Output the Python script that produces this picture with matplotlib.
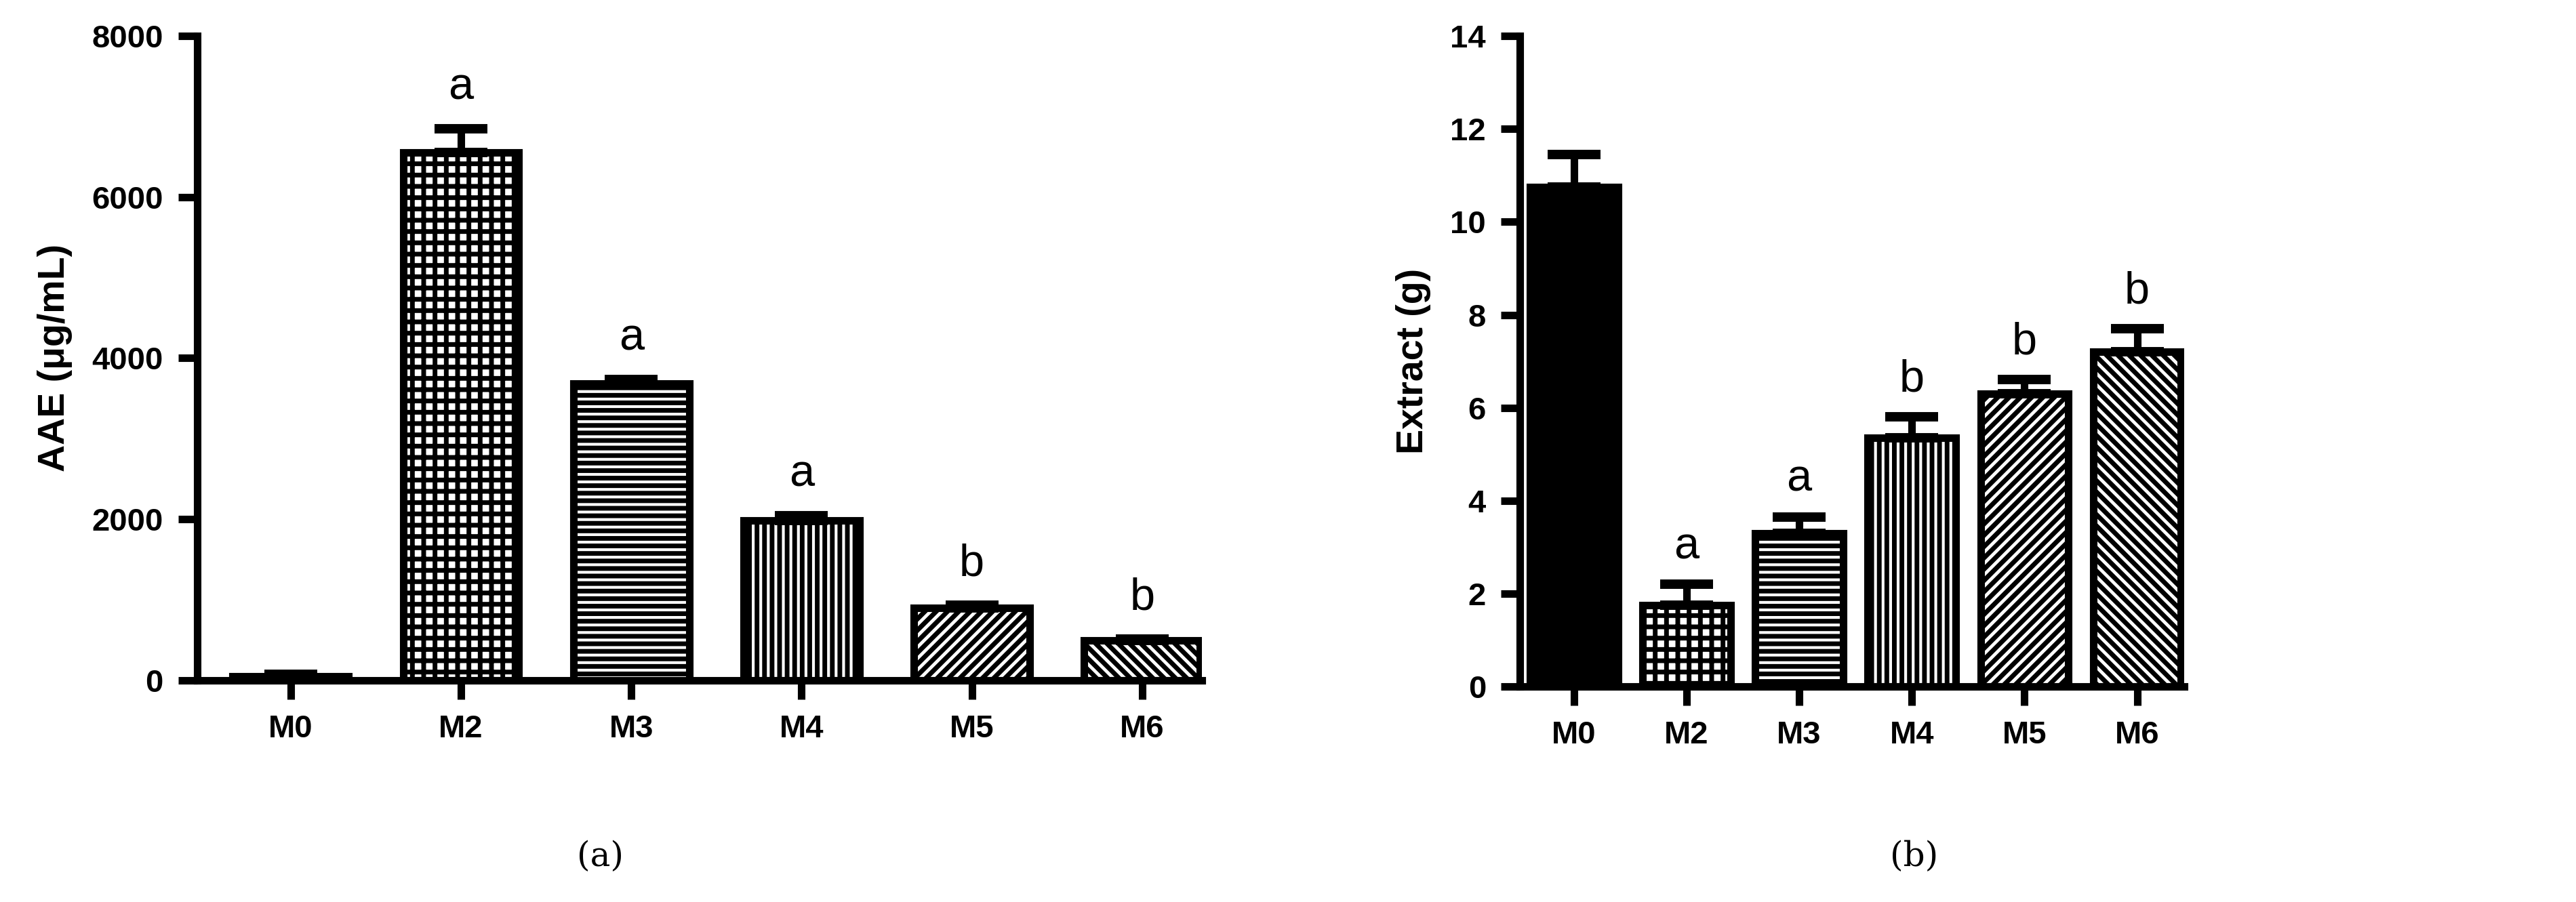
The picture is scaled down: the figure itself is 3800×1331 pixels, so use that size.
import matplotlib.pyplot as plt

plt.rcParams["font.family"] = ["Liberation Sans", "DejaVu Sans"]
plt.rcParams["hatch.linewidth"] = 2.5

groups = ["M0", "M2", "M3", "M4", "M5", "M6"]
hatches_a = ["++++", "++", "---", "|||", "////", "\\\\\\\\"]
hatches_b = ["++++++", "++", "---", "|||", "////", "\\\\\\\\"]

aae = [50, 6550, 3680, 1980, 900, 490]
aae_err = [20, 300, 50, 60, 30, 20]
aae_letters = ["", "a", "a", "a", "b", "b"]

extract = [10.75, 1.75, 3.3, 5.35, 6.3, 7.2]
extract_err = [0.7, 0.45, 0.35, 0.45, 0.3, 0.5]
extract_letters = ["", "a", "a", "b", "b", "b"]

fig = plt.figure(figsize=(19, 6.655), dpi=200)
ax1 = fig.add_axes([0.0765, 0.246, 0.39, 0.714])
ax2 = fig.add_axes([0.59, 0.239, 0.258, 0.721])


def draw(ax, vals, errs, letters, hs, ymax, step, ylabel, off, width, xlim):
    x = range(len(groups))
    for i in x:
        ax.bar(i, vals[i], width=width, color="white", edgecolor="black",
               linewidth=4, hatch=hs[i], zorder=2)
        ax.errorbar(i, vals[i], yerr=[[0], [errs[i]]], fmt="none", ecolor="black",
                    elinewidth=4, capsize=14, capthick=5, zorder=3)
        if letters[i]:
            ax.text(i, vals[i] + errs[i] + off, letters[i], ha="center", va="bottom",
                    fontsize=24)
    ax.set_xlim(*xlim)
    ax.set_ylim(0, ymax)
    ax.set_yticks(range(0, int(ymax) + 1, step))
    ax.set_xticks(list(x))
    ax.set_xticklabels(groups)
    for s in ["top", "right"]:
        ax.spines[s].set_visible(False)
    for s in ["left", "bottom"]:
        ax.spines[s].set_linewidth(4)
    ax.tick_params(width=4, length=10, labelsize=17, pad=8)
    for lab in ax.get_xticklabels() + ax.get_yticklabels():
        lab.set_fontweight("bold")
    ax.set_ylabel(ylabel, fontsize=20, fontweight="bold", labelpad=10)


draw(ax1, aae, aae_err, aae_letters, hatches_a, 8000, 2000, "AAE (\u03bcg/mL)",
     250, 0.68, (-0.55, 5.35))
draw(ax2, extract, extract_err, extract_letters, hatches_b, 14, 2, "Extract (g)",
     0.35, 0.78, (-0.48, 5.42))

fig.text(0.233, 0.04, "(a)", fontsize=18, family="DejaVu Serif", ha="center")
fig.text(0.743, 0.04, "(b)", fontsize=18, family="DejaVu Serif", ha="center")

fig.savefig("out.png", dpi=200)
